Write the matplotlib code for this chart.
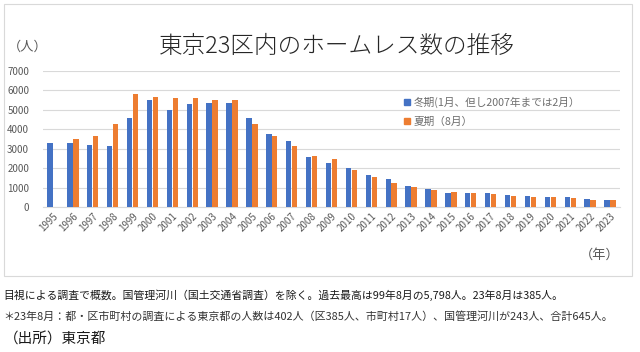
import matplotlib
matplotlib.use("Agg")
import matplotlib.pyplot as plt
import numpy as np
from matplotlib.patches import Rectangle
from matplotlib.lines import Line2D

plt.rcParams['font.family'] = ['Noto Sans CJK JP', 'DejaVu Sans']

years = [str(y) for y in range(1995, 2024)]
winter = [3300, 3300, 3190, 3160, 4580, 5520, 5000, 5290, 5330, 5360,
          4600, 3750, 3390, 2570, 2290, 2010, 1650, 1420, 1090,
          940, 730, 710, 710, 610, 570, 540, 520, 400, 350]
summer = [np.nan, 3490, 3680, 4290, 5798, 5660, 5590, 5590, 5490, 5500,
          4250, 3650, 3160, 2640, 2470, 1880, 1560, 1220, 1020,
          890, 760, 710, 680, 570, 540, 520, 450, 360, 385]

title = "東京23区内のホームレス数の推移"
legend_labels = ["冬期(1月、但し2007年までは2月）", "夏期（8月）"]
note1 = "目視による調査で概数。国管理河川（国土交通省調査）を除く。過去最高は99年8月の5,798人。23年8月は385人。"
note2 = "＊23年8月：都・区市町村の調査による東京都の人数は402人（区385人、市町村17人）、国管理河川が243人、合計645人。"
source = "（出所）東京都"

blue = "#4472C4"
orange = "#ED7D31"
gray = "#595959"

fig = plt.figure(figsize=(6.4, 3.52), dpi=100)
fig.patch.set_facecolor("white")

# border box
fig.add_artist(Rectangle((4/640, 1-276/352), (632-4)/640, (276-4)/352,
                         transform=fig.transFigure, fill=False,
                         edgecolor="#d9d9d9", linewidth=0.8))

ax = fig.add_axes([43/640, 1-207/352, (620-43)/640, (207-71)/352])
x = np.arange(len(years))
w = 0.27
ax.bar(x - 0.15, winter, width=w, color=blue, label=legend_labels[0], zorder=3)
ax.bar(x + 0.15, summer, width=w, color=orange, label=legend_labels[1], zorder=3)

ax.set_xlim(-0.5, len(years) - 0.5)
ax.set_ylim(0, 7000)
ax.set_yticks(range(0, 7001, 1000))
ax.tick_params(axis='y', length=0, labelsize=7, labelcolor=gray, pad=10)
ax.set_xticks(x)
ax.set_xticklabels(years, rotation=45, ha='right', rotation_mode='anchor',
                   fontsize=7, color=gray)
ax.tick_params(axis='x', length=0, pad=3)
ax.grid(axis='y', color="#d9d9d9", linewidth=0.8, zorder=0)
for s in ['top', 'right', 'left']:
    ax.spines[s].set_visible(False)
ax.spines['bottom'].set_color("#d9d9d9")

handles = [Line2D([], [], marker='s', linestyle='none', color=blue, markersize=5),
           Line2D([], [], marker='s', linestyle='none', color=orange, markersize=5)]
ax.legend(handles, legend_labels, loc='upper left',
          bbox_to_anchor=((392 - 43)/577, (207 - 87)/136),
          frameon=False, fontsize=7.7, labelcolor="#6e6e6e",
          handletextpad=0.1, labelspacing=0.85, handlelength=1.0)

fig.text(337/640, 1-46/352, title, ha='center', va='center', fontsize=17,
         color="#262626", fontweight='light')
fig.text(28/640, 1-47/352, "（人）", ha='center', va='center', fontsize=9.5, color=gray)
fig.text(600/640, 1-255/352, "（年）", ha='center', va='center', fontsize=9.5, color=gray)

fig.text(3/640, 1-295/352, note1, ha='left', va='center', fontsize=7.8, color="#1a1a1a")
fig.text(3/640, 1-317/352, note2, ha='left', va='center', fontsize=7.9, color="#333333")
fig.text(4/640, 1-340/352, source, ha='left', va='center', fontsize=10.5, color="#1a1a1a")

fig.savefig("out.png", dpi=100, facecolor="white")
